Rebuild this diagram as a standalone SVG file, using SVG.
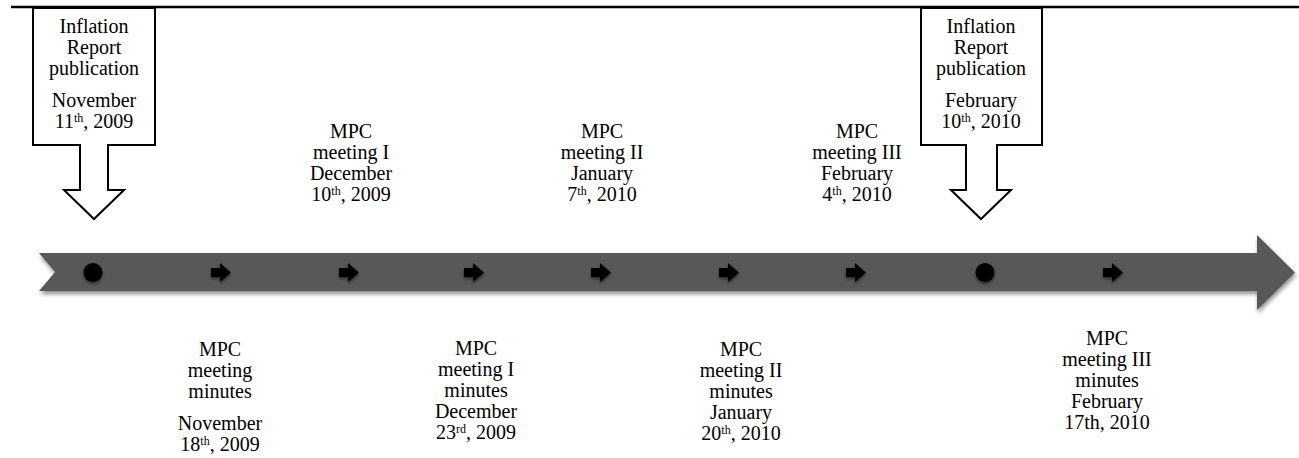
<svg xmlns="http://www.w3.org/2000/svg" width="1299" height="458" viewBox="0 0 1299 458">
<defs>
<style>
text{font-family:"Liberation Serif","Times New Roman",serif;font-size:20px;fill:#000;text-anchor:middle}
.sup{font-size:12px}
.callout{fill:#fff;stroke:#000;stroke-width:2}
</style>
<filter id="sh" x="-5%" y="-30%" width="110%" height="170%">
<feDropShadow dx="1" dy="3" stdDeviation="2" flood-color="#000" flood-opacity="0.45"/>
</filter>
<filter id="sh2" x="-50%" y="-50%" width="200%" height="200%">
<feDropShadow dx="0" dy="2" stdDeviation="1.5" flood-color="#000" flood-opacity="0.5"/>
</filter>
<path id="sa" d="M-9,-4.5 H0 V-9.5 L11,0 L0,9.5 V4.5 H-9 Z" fill="#000"/>
</defs>
<rect width="1299" height="458" fill="#fff"/>
<line x1="11" y1="7" x2="1299" y2="7" stroke="#000" stroke-width="2.5"/>

<g id="timeline">
<path d="M39,253 H1257 V235 L1295,272.5 L1257,310 V291 H39 L55,272 Z" fill="#595959" filter="url(#sh)"/>
</g>

<g id="markers" filter="url(#sh2)">
<circle cx="93" cy="272.5" r="9.5" fill="#000"/>
<circle cx="985" cy="272.5" r="9.5" fill="#000"/>
<use href="#sa" transform="translate(220,272.5)"/>
<use href="#sa" transform="translate(348,272.5)"/>
<use href="#sa" transform="translate(473,272.5)"/>
<use href="#sa" transform="translate(600,272.5)"/>
<use href="#sa" transform="translate(728,272.5)"/>
<use href="#sa" transform="translate(855,272.5)"/>
<use href="#sa" transform="translate(1112,272.5)"/>
</g>

<g id="ir1">
<path class="callout" d="M33,8 H155 V145 H108 V190 H124 L94,219 L64,190 H80 V145 H33 Z"/>
<text x="94" y="33">Inflation</text>
<text x="94" y="54">Report</text>
<text x="94" y="75">publication</text>
<text x="94" y="107">November</text>
<text x="94" y="128">11<tspan class="sup" dy="-6">th</tspan><tspan dy="6">, 2009</tspan></text>
</g>

<g id="ir2">
<path class="callout" d="M921,8 H1042 V145 H997 V190 H1011 L981,219 L951,190 H966 V145 H921 Z"/>
<text x="981" y="33">Inflation</text>
<text x="981" y="54">Report</text>
<text x="981" y="75">publication</text>
<text x="981" y="107">February</text>
<text x="981" y="128">10<tspan class="sup" dy="-6">th</tspan><tspan dy="6">, 2010</tspan></text>
</g>

<g id="m1">
<text x="351" y="138">MPC</text>
<text x="351" y="159">meeting I</text>
<text x="351" y="180">December</text>
<text x="351" y="201">10<tspan class="sup" dy="-6">th</tspan><tspan dy="6">, 2009</tspan></text>
</g>

<g id="m2">
<text x="602" y="138">MPC</text>
<text x="602" y="159">meeting II</text>
<text x="602" y="180">January</text>
<text x="602" y="201">7<tspan class="sup" dy="-6">th</tspan><tspan dy="6">, 2010</tspan></text>
</g>

<g id="m3">
<text x="857" y="138">MPC</text>
<text x="857" y="159">meeting III</text>
<text x="857" y="180">February</text>
<text x="857" y="201">4<tspan class="sup" dy="-6">th</tspan><tspan dy="6">, 2010</tspan></text>
</g>

<g id="min0">
<text x="220" y="356">MPC</text>
<text x="220" y="377">meeting</text>
<text x="220" y="398">minutes</text>
<text x="220" y="430">November</text>
<text x="220" y="451">18<tspan class="sup" dy="-6">th</tspan><tspan dy="6">, 2009</tspan></text>
</g>

<g id="min1">
<text x="476" y="355">MPC</text>
<text x="476" y="376">meeting I</text>
<text x="476" y="397">minutes</text>
<text x="476" y="418">December</text>
<text x="476" y="439">23<tspan class="sup" dy="-6">rd</tspan><tspan dy="6">, 2009</tspan></text>
</g>

<g id="min2">
<text x="741" y="356">MPC</text>
<text x="741" y="377">meeting II</text>
<text x="741" y="398">minutes</text>
<text x="741" y="419">January</text>
<text x="741" y="440">20<tspan class="sup" dy="-6">th</tspan><tspan dy="6">, 2010</tspan></text>
</g>

<g id="min3">
<text x="1107" y="345">MPC</text>
<text x="1107" y="366">meeting III</text>
<text x="1107" y="387">minutes</text>
<text x="1107" y="408">February</text>
<text x="1107" y="429">17th, 2010</text>
</g>
</svg>
